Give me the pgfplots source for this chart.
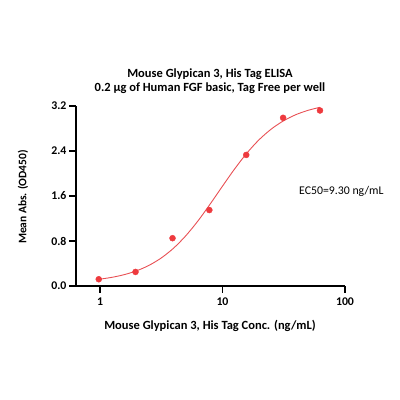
\documentclass[border=0pt]{standalone}
\usepackage{pgfplots}
\pgfplotsset{compat=1.18}
\usepackage{fontspec}
\setmainfont{Carlito}
\definecolor{ptred}{RGB}{238,58,62}
\definecolor{curvered}{RGB}{232,80,84}
\begin{document}
\begin{tikzpicture}[x=1pt,y=1pt]
\useasboundingbox (0,0) rectangle (400,400);
\begin{axis}[
  at={(76pt,114pt)}, anchor=south west,
  scale only axis, width=269pt, height=180pt,
  xmode=log, log basis x=10,
  xmin=0.637, xmax=100, ymin=0, ymax=3.2,
  axis x line*=bottom, axis y line*=left,
  axis line style={line width=1.2pt, -},
  xtick={1,10,100}, xticklabels={1,10,100},
  ytick={0,0.8,1.6,2.4,3.2},
  yticklabels={0.0,0.8,1.6,2.4,3.2},
  minor xtick={}, minor ytick={},
  tick style={line width=1.2pt, black},
  major tick length=7pt,
  tick align=outside,
  ticklabel style={font=\bfseries\fontsize{11.8}{14}\selectfont},
  xticklabel style={yshift=-1pt},
  yticklabel style={xshift=1pt},
  /pgf/number format/assume math mode=true,
  clip=false,
]
\addplot[curvered, line width=0.9pt, smooth, no marks] coordinates {
(1,0.122) (1.2589,0.155) (1.5849,0.203) (1.9953,0.271) (2.5119,0.367)
(3.1623,0.498) (3.9811,0.671) (5.0119,0.892) (6.3096,1.158) (7.9433,1.459)
(10,1.775) (12.589,2.084) (15.849,2.365) (19.953,2.603) (25.119,2.793)
(31.623,2.939) (39.811,3.047) (50.119,3.124) (62.5,3.177)
};
\addplot[only marks, mark=*, mark size=3pt, draw=ptred, fill=ptred] coordinates {
(0.977,0.12) (1.95,0.25) (3.91,0.85) (7.81,1.35) (15.63,2.33) (31.25,2.99) (62.5,3.12)
};
\node[anchor=west, inner sep=0pt, font=\fontsize{11.8}{14}\selectfont] at (axis cs:42.1,1.676) {EC50=9.30 ng/mL};
\end{axis}
\node[font=\bfseries\fontsize{12.5}{15}\selectfont] at (210,326) {Mouse Glypican 3, His Tag ELISA};
\node[font=\bfseries\fontsize{12.5}{15}\selectfont] at (210,311.5) {0.2 μg of Human FGF basic, Tag Free per well};
\node[font=\bfseries\fontsize{11.5}{14}\selectfont, rotate=90] at (23,203) {Mean Abs. (OD450)};
\node[font=\bfseries\fontsize{12.5}{15}\selectfont] at (210,74) {Mouse Glypican 3, His Tag Conc. (ng/mL)};
\end{tikzpicture}
\end{document}
